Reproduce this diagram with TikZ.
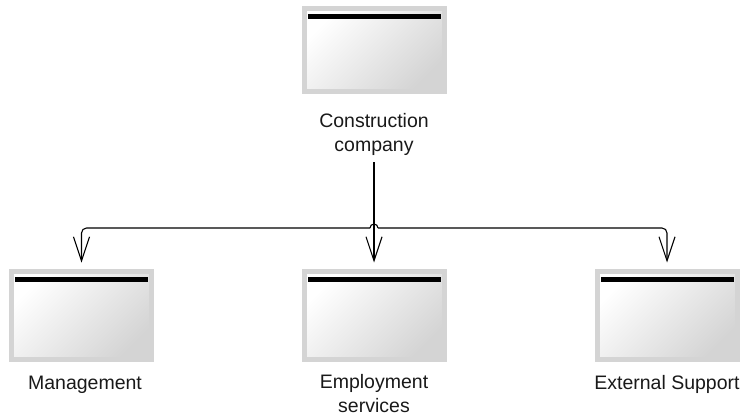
\documentclass[tikz,border=0pt]{standalone}
\usepackage{fontspec}
\setmainfont{Liberation Sans}
\usepackage{tikz}
\usetikzlibrary{calc,arrows.meta,positioning}
\definecolor{frameGray}{HTML}{D4D4D4}
\definecolor{shadeGray}{HTML}{D4D4D4}
\def\topRow{50}
\def\bottomRow{315.5}
\def\junctionY{228}
\tikzstyle{link} = [line width=1.1pt,-{Straight Barb[length=24pt,width=16pt]},rounded corners=5pt,shorten >=6.5pt]

\begin{document}
\begin{tikzpicture}[x=1pt,y=-1pt]
    \tikzstyle{unit}=[rectangle,draw=frameGray,line width=5pt,inner sep=0pt,minimum width=140pt,minimum height=88pt,
        top color=white,bottom color=shadeGray,shading angle=45,
        path picture={\fill[black] ($(path picture bounding box.north west)+(3.5pt,-5.5pt)$) rectangle ($(path picture bounding box.north east)+(-3.5pt,-10.5pt)$);}]
    \tikzstyle{caption}=[align=center,font=\fontsize{19.5}{24}\selectfont,inner sep=0pt,text=black!90]

    \useasboundingbox (0,0) rectangle (742,416);

    % Draw the company box
    \node[unit,minimum height=83pt] (company) at (374,\topRow) {};
    \node[caption,anchor=base] (company-t) at (374,151) {Construction\\company};

    % Draw the department boxes
    \node[unit] (manage) at (81.5,\bottomRow) {};
    \node[unit] (employ) at (374,\bottomRow) {};
    \node[unit] (extern) at (667,\bottomRow) {};
    \node[caption,anchor=base] (manage-t) at (85,389) {Management};
    \node[caption,anchor=base] (employ-t) at (374,412) {Employment\\services};
    \node[caption,anchor=base] (extern-t) at (667,389) {External Support};

    % Draw the links
    \coordinate (stem) at (374,162);
    \coordinate (split) at (374,\junctionY);
    \draw[link] (stem) -- (employ.north);
    \draw[link] ($(split)+(-4pt,0)$) -| (manage.north);
    \draw[link] ($(split)+(4pt,0)$) -| (extern.north);
    \draw[line width=1.1pt] ($(split)+(-4pt,0)$) arc[start angle=180,end angle=0,radius=4pt];
\end{tikzpicture}
\end{document}
